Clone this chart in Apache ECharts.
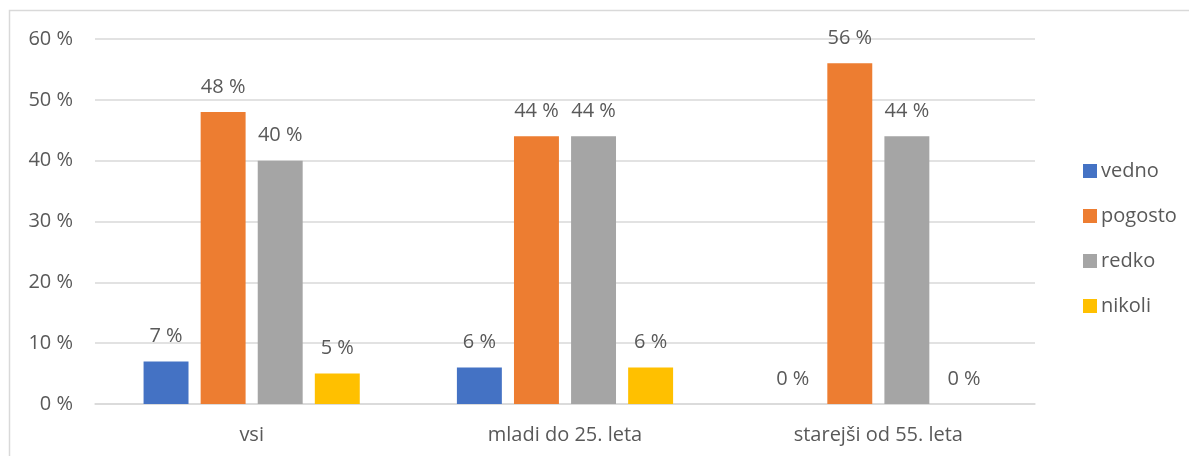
<!DOCTYPE html>
<html>
<head>
<meta charset="utf-8">
<script src="https://cdn.jsdelivr.net/npm/echarts@6/dist/echarts.min.js"></script>
<style>html,body{margin:0;padding:0;background:#fff;}#c{width:1189px;height:456px;}</style>
</head>
<body>
<div id="c"></div>
<script>
const categories = ['vsi', 'mladi do 25. leta', 'starejši od 55. leta'];
const vedno = [7, 6, 0];
const pogosto = [48, 44, 56];
const redko = [40, 44, 44];
const nikoli = [5, 6, 0];
const seriesNames = ['vedno', 'pogosto', 'redko', 'nikoli'];
const colors = ['#4472C4', '#ED7D31', '#A5A5A5', '#FFC000'];
const yTicks = { min: 0, max: 60, interval: 10 };

const font = '"Open Sans", "Noto Sans", sans-serif';
const txt = '#595959';
const fs = 20;
const dataSets = [vedno, pogosto, redko, nikoli];

const chart = echarts.init(document.getElementById('c'));
chart.setOption({
  animation: false,
  textStyle: { fontFamily: font },
  graphic: [{
    type: 'rect', shape: { x: 9.5, y: 10.5, width: 1300, height: 600 },
    style: { fill: 'none', stroke: '#d9d9d9', lineWidth: 1.5 }, silent: true, z: -1
  }],
  grid: { left: 95, right: 154, top: 39, bottom: 52, containLabel: false },
  legend: {
    orient: 'vertical', left: 1078, top: 156,
    itemWidth: 14, itemHeight: 14, itemGap: 25,
    icon: 'rect',
    textStyle: { color: txt, fontSize: fs, lineHeight: 20, fontFamily: font, padding: [0, 0, 0, -1] },
    data: seriesNames
  },
  xAxis: {
    type: 'category', data: categories,
    axisLine: { lineStyle: { color: '#d9d9d9', width: 1.5 } },
    axisTick: { show: false },
    axisLabel: { color: txt, fontSize: fs, margin: 21, fontFamily: font }
  },
  yAxis: {
    type: 'value', min: yTicks.min, max: yTicks.max, interval: yTicks.interval,
    axisLine: { show: false }, axisTick: { show: false },
    splitLine: { lineStyle: { color: '#d9d9d9', width: 1.5 } },
    axisLabel: { color: txt, fontSize: fs, margin: 22, fontFamily: font, formatter: v => v + ' %' }
  },
  series: seriesNames.map((n, i) => ({
    name: n, type: 'bar', data: dataSets[i],
    barGap: '27%', barCategoryGap: '31%',
    itemStyle: { color: colors[i] },
    label: { show: true, position: 'top', distance: 15, color: txt, fontSize: fs, fontFamily: font, formatter: p => p.value + ' %' }
  }))
});
</script>
</body>
</html>
